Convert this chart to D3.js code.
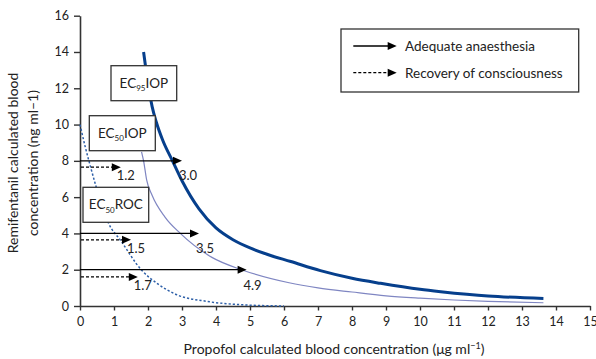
<!DOCTYPE html>
<html>
<head>
<meta charset="utf-8">
<script src="https://cdn.jsdelivr.net/npm/d3@7/dist/d3.min.js"></script>
<style>
  html, body { margin: 0; padding: 0; background: #fff; }
  svg { display: block; font-family: Lato, "Open Sans", sans-serif; }
</style>
</head>
<body>
<svg id="chart" width="596" height="359"></svg>
<script>
// Iso-effect curves: propofol (µg/ml) vs remifentanil (ng/ml)
const ec95Prop = [1.87, 1.95, 2.03, 2.12, 2.25, 2.43, 2.72, 3.0, 3.5, 4.0, 4.5, 5.0, 5.5, 6.2, 7.07, 8.0, 8.84, 10.0, 10.61, 12.0, 13.63];
const ec95Remi = [14.0, 12.9, 11.9, 11.0, 10.1, 9.15, 8.0, 6.9, 5.35, 4.3, 3.65, 3.2, 2.85, 2.45, 1.95, 1.53, 1.25, 0.92, 0.79, 0.55, 0.42];

const ec50Prop = [1.81, 1.87, 1.96, 2.12, 2.5, 2.95, 3.88, 4.75, 6.15, 7.0, 8.0, 9.0, 10.0, 11.0, 12.0, 13.63];
const ec50Remi = [8.5, 8.0, 6.95, 6.1, 4.9, 4.0, 2.68, 2.0, 1.28, 1.0, 0.77, 0.56, 0.43, 0.33, 0.26, 0.18];

const rocProp = [0, 0.15, 0.32, 0.47, 0.83, 1.2, 1.8, 2.3, 2.85, 3.75, 4.85, 6.0];
const rocRemi = [10, 8.8, 7.6, 6.6, 4.6, 3.6, 2.0, 1.2, 0.62, 0.25, 0.06, 0];

// Arrows: remifentanil level -> propofol required
const adequateRemi = [8, 4, 2];
const adequateProp = [3.0, 3.5, 4.9];
const recoveryRemi = [7.65, 3.65, 1.6];
const recoveryProp = [1.2, 1.5, 1.7];

const xTickValues = d3.range(0, 16, 1);
const yTickValues = d3.range(0, 17, 2);

const curveLabels = [
  { main: "EC", sub: "95", rest: "IOP" },
  { main: "EC", sub: "50", rest: "IOP" },
  { main: "EC", sub: "50", rest: "ROC" }
];
const legendLabels = ["Adequate anaesthesia", "Recovery of consciousness"];

const svg = d3.select("#chart");
const axisColor = "#333";
const textColor = "#222";

const x = d3.scaleLinear().domain([0, 15]).range([80, 590]);
const y = d3.scaleLinear().domain([0, 16]).range([306, 15.7]);

// Axes
const xAxis = svg.append("g")
  .attr("transform", `translate(0,${y(0)})`)
  .call(d3.axisBottom(x).tickValues(xTickValues).tickSize(4.5).tickSizeOuter(0).tickPadding(7));
const yAxis = svg.append("g")
  .attr("transform", `translate(${x(0)},0)`)
  .call(d3.axisLeft(y).tickValues(yTickValues).tickSize(6).tickSizeOuter(0).tickPadding(5));

[xAxis, yAxis].forEach(g => {
  g.select(".domain").attr("stroke", axisColor).attr("stroke-width", 1.6);
  g.selectAll(".tick line").attr("stroke", axisColor).attr("stroke-width", 1.4);
  g.selectAll(".tick text").attr("fill", textColor).style("font-size", "12.5px").style("font-family", "Lato, sans-serif");
});

// Curves
const line = d3.line().x(d => x(d[0])).y(d => y(d[1])).curve(d3.curveMonotoneX);
const zip = (a, b) => a.map((v, i) => [v, b[i]]);

svg.append("path").datum(zip(rocProp, rocRemi))
  .attr("d", line).attr("fill", "none")
  .attr("stroke", "#2d5fa8").attr("stroke-width", 1.5).attr("stroke-dasharray", "2.2,2");

svg.append("path").datum(zip(ec50Prop, ec50Remi))
  .attr("d", line).attr("fill", "none")
  .attr("stroke", "#7f86c2").attr("stroke-width", 1.2);

svg.append("path").datum(zip(ec95Prop, ec95Remi))
  .attr("d", line).attr("fill", "none")
  .attr("stroke", "#063f8c").attr("stroke-width", 3);

// Arrow helper: line from x0 to tip (px) with filled triangular head
const headLen = 9, headHalf = 4;
function arrow(g, x0, tip, yy, dashed) {
  g.append("line")
    .attr("x1", x0).attr("x2", tip - headLen + 1)
    .attr("y1", yy).attr("y2", yy)
    .attr("stroke", "#000").attr("stroke-width", 1.3)
    .attr("stroke-dasharray", dashed ? "3,2" : null);
  g.append("path")
    .attr("d", `M${tip},${yy}L${tip - headLen},${yy - headHalf}L${tip - headLen},${yy + headHalf}Z`)
    .attr("fill", "#000");
}

const arrows = svg.append("g");
adequateRemi.forEach((r, i) => arrow(arrows, x(0), x(adequateProp[i]), y(r), false));
recoveryRemi.forEach((r, i) => arrow(arrows, x(0) + 1, x(recoveryProp[i]), y(r), true));

const valueLabels = svg.append("g").style("font-size", "13px").attr("fill", textColor).attr("text-anchor", "middle");
adequateProp.forEach((p, i) => {
  valueLabels.append("text").attr("x", x(p) + 6).attr("y", y(recoveryRemi[i]) + 13).text(p.toFixed(1));
});
recoveryProp.forEach((p, i) => {
  valueLabels.append("text").attr("x", x(p) + 5).attr("y", y(recoveryRemi[i]) + 13).text(p.toFixed(1));
});

// Curve name boxes
const boxes = [
  { x0: 111, y0: 65.7, w: 65.7, h: 35 },
  { x0: 89.3, y0: 115.7, w: 66, h: 35 },
  { x0: 83, y0: 187.3, w: 65.7, h: 35 }
];
boxes.forEach((b, i) => {
  const g = svg.append("g");
  g.append("rect").attr("x", b.x0).attr("y", b.y0).attr("width", b.w).attr("height", b.h)
    .attr("fill", "#fff").attr("stroke", "#333").attr("stroke-width", 1.3);
  const t = g.append("text").attr("x", b.x0 + b.w / 2).attr("y", b.y0 + b.h / 2 + 4.5)
    .attr("text-anchor", "middle").attr("fill", textColor).style("font-size", "13.5px");
  const lab = curveLabels[i];
  t.append("tspan").text(lab.main);
  t.append("tspan").attr("dy", 3.5).style("font-size", "8px").text(lab.sub);
  t.append("tspan").attr("dy", -3.5).text(lab.rest);
});

// Legend
const leg = svg.append("g");
leg.append("rect").attr("x", 341).attr("y", 29).attr("width", 237.7).attr("height", 63)
  .attr("fill", "#fff").attr("stroke", "#333").attr("stroke-width", 1.3);
[46, 72.7].forEach((yy, i) => {
  arrow(leg, 353.3, 396.7, yy, i === 1);
  leg.append("text").attr("x", 405).attr("y", yy + 4.8).attr("fill", textColor)
    .style("font-size", "13.5px").text(legendLabels[i]);
});

// Axis titles
const xt = svg.append("text").attr("x", 334).attr("y", 354).attr("text-anchor", "middle")
  .attr("fill", textColor).style("font-size", "14px");
xt.append("tspan").text("Propofol calculated blood concentration (\u03bcg ml");
xt.append("tspan").attr("dy", -5).style("font-size", "9px").text("\u22121");
xt.append("tspan").attr("dy", 5).text(")");

const yt = svg.append("text").attr("transform", "translate(18,163) rotate(-90)")
  .attr("text-anchor", "middle").attr("fill", textColor).style("font-size", "14px");
yt.append("tspan").attr("x", 0).attr("dy", 0).text("Remifentanil calculated blood");
yt.append("tspan").attr("x", 0).attr("dy", 19.5).text("concentration (ng ml\u20131)");
</script>
</body>
</html>
